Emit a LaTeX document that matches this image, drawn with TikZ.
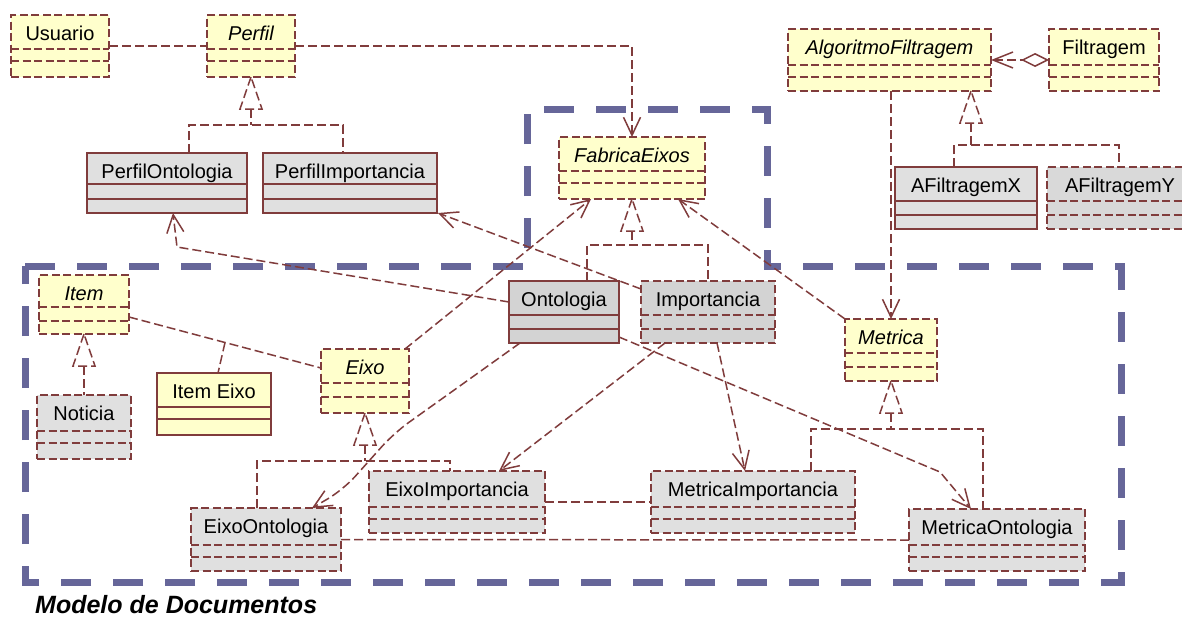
\documentclass[tikz,border=0pt]{standalone}
\usepackage{fontspec}
\setmainfont{Liberation Sans}
\usetikzlibrary{arrows.meta,calc}

\definecolor{umlline}{RGB}{128,60,60}
\definecolor{umlyellow}{RGB}{255,255,204}
\definecolor{umlgray}{RGB}{224,224,224}
\definecolor{umlgraymd}{RGB}{217,217,217}
\definecolor{umlgraydk}{RGB}{211,211,211}
\definecolor{pkgblue}{RGB}{102,102,153}

\newcommand{\umlfont}{\fontsize{20}{24}\selectfont}

% class box: name, style, x1, y1, x2, y2, divider 1, divider 2, title
\newcommand{\umlclass}[9]{%
  \node[#2, inner sep=0pt, outer sep=0pt, minimum width={#5-#3},
        minimum height={#6-#4}, anchor=north west] (#1) at (#3,#4) {};
  \draw[#2, fill=none] (#3,#7) -- (#5,#7) (#3,#8) -- (#5,#8);
  \node[anchor=base, inner sep=0pt, font=\umlfont] at ({(#3+#5)/2},{#4+25.5}) {#9};
}

\tikzset{
  sbox/.style={draw=umlline, line width=1.5pt},
  dbox/.style={sbox, dash pattern=on 8pt off 3.5pt},
  conn/.style={draw=umlline, line width=1.5pt, dash pattern=on 9pt off 4pt},
  dep/.style={conn, -{Straight Barb[length=18pt,width=17pt]}},
  pkg/.style={draw=pkgblue, line width=7pt, dash pattern=on 30pt off 22pt},
  gentri/.style={conn, fill=white},
}

% open generalization triangle hanging below an apex
\newcommand{\gentriangle}[1]{%
  \draw[gentri] (#1) -- ++(-11,32) -- ++(22,0) -- cycle;}

\begin{document}
\begin{tikzpicture}[x=1pt, y=-1pt]
\useasboundingbox (0,0) rectangle (1182,616);
\fill[white] (0,0) rectangle (1182,616);
\clip (0,0) rectangle (1182,616);

% package outline
\draw[pkg] (25,266) -- (527,266) -- (527,109) -- (767,109) -- (767,266)
  -- (1121,266) -- (1121,582) -- (25,582) -- cycle;

% classes
\umlclass{usu}{dbox,fill=umlyellow}{11}{15}{109}{77}{49}{61}{Usuario}
\umlclass{perf}{dbox,fill=umlyellow}{207}{15}{295}{77}{49}{61}{\itshape Perfil}
\umlclass{pont}{sbox,fill=umlgray}{87}{153}{247}{213}{184}{199}{PerfilOntologia}
\umlclass{pimp}{sbox,fill=umlgray}{263}{153}{437}{213}{184}{199}{PerfilImportancia}
\umlclass{fab}{dbox,fill=umlyellow}{559}{137}{705}{199}{171}{183}{\itshape FabricaEixos}
\umlclass{algo}{dbox,fill=umlyellow}{788}{29}{991}{91}{65}{77}{\itshape AlgoritmoFiltragem}
\umlclass{filt}{dbox,fill=umlyellow}{1049}{29}{1159}{91}{65}{77}{Filtragem}
\umlclass{afx}{sbox,fill=umlgray}{895}{167}{1037}{229}{201}{215}{AFiltragemX}
\umlclass{afy}{dbox,fill=umlgraymd}{1047}{167}{1193}{229}{201}{215}{AFiltragemY}
\umlclass{item}{dbox,fill=umlyellow}{39}{275}{129}{334}{307}{321}{\itshape Item}
\umlclass{noti}{dbox,fill=umlgray}{37}{395}{131}{459}{431}{443}{Noticia}
\umlclass{ie}{sbox,fill=umlyellow}{157}{373}{271}{435}{407}{419}{Item Eixo}
\umlclass{eixo}{dbox,fill=umlyellow}{321}{349}{409}{413}{383}{397}{\itshape Eixo}
\umlclass{onto}{sbox,fill=umlgraydk}{509}{281}{619}{343}{315}{329}{Ontologia}
\umlclass{impo}{dbox,fill=umlgraydk}{641}{281}{775}{343}{315}{329}{Importancia}
\umlclass{metr}{dbox,fill=umlyellow}{845}{319}{937}{381}{353}{367}{\itshape Metrica}
\umlclass{eimp}{dbox,fill=umlgray}{369}{471}{545}{533}{507}{519}{EixoImportancia}
\umlclass{mimp}{dbox,fill=umlgray}{651}{471}{855}{533}{507}{519}{MetricaImportancia}
\umlclass{eont}{dbox,fill=umlgray}{191}{508}{341}{571}{545}{557}{EixoOntologia}
\umlclass{mont}{dbox,fill=umlgray}{909}{509}{1085}{571}{545}{557}{MetricaOntologia}

% associations
\draw[conn] (usu.east) -- (perf.west);
\draw[conn] (eimp.east) -- (mimp.west);
\draw[conn] (eont.east) -- (mont.west);
\coordinate (ia) at ([yshift=17]item.south east);
\coordinate (ib) at ([yshift=-19]eixo.north west);
\draw[conn] (ia) -- (ib);
\draw[conn] ($(ia)!0.5!(ib)$) -- ([xshift=61]ie.north west);
\draw[conn, {Straight Barb[length=20pt,width=16pt]}-{Diamond[open,length=28pt,width=14pt]}]
  (algo.east) -- (filt.west);

% generalizations
\gentriangle{perf.south}
\draw[conn] ($(perf.south)+(0,32)$) -- ++(0,16);
\draw[conn] ([xshift=102]pont.north west) |- ($(perf.south)+(0,48)$)
  -| ([xshift=80]pimp.north west);

\gentriangle{fab.south}
\draw[conn] ($(fab.south)+(0,32)$) -- ++(0,14);
\draw[conn] ([xshift=78]onto.north west) |- ($(fab.south)+(0,46)$) -| (impo.north);

\coordinate (algogen) at ([xshift=183]algo.south west);
\gentriangle{algogen}
\draw[conn] ($(algogen)+(0,32)$) -- ++(0,22);
\draw[conn] ([xshift=59]afx.north west) |- ($(algogen)+(0,54)$)
  -| ([xshift=72]afy.north west);

\gentriangle{item.south}
\draw[conn] ($(item.south)+(0,32)$) -- (noti.north);

\gentriangle{eixo.south}
\draw[conn] ($(eixo.south)+(0,32)$) -- ++(0,16);
\draw[conn] ([xshift=66]eont.north west) |- ($(eixo.south)+(0,48)$)
  -| ([xshift=81]eimp.north west);

\gentriangle{metr.south}
\draw[conn] ($(metr.south)+(0,32)$) -- ++(0,16);
\draw[conn] ([xshift=160]mimp.north west) |- ($(metr.south)+(0,48)$)
  -| ([xshift=74]mont.north west);

% dependencies
\draw[dep] (perf.east) -| (fab.north);
\draw[dep] (algo.south -| metr.north) -- (metr.north);
\draw[dep] ([xshift=-4]eixo.north east) -- ([xshift=32]fab.south west);
\draw[dep] (metr.north west) -- ([xshift=119]fab.south west);
\draw[dep] ([yshift=10]onto.west) -- ([xshift=90,yshift=-34]pont.south west)
  -- ([xshift=86]pont.south west);
\draw[dep] ([yshift=-8]impo.north west) -- ([xshift=1]pimp.south east);
\draw[dep, rounded corners=18pt] ([xshift=11]onto.south west)
  -- ([xshift=203,yshift=75]eont.north west)
  -- ([xshift=152,yshift=18]eont.north west)
  -- ([xshift=121]eont.north west);
\draw[dep] ([xshift=24]impo.south west) -- ([xshift=130]eimp.north west);
\draw[dep] ([xshift=76]impo.south west) -- ([xshift=94]mimp.north west);
\draw[dep] ([yshift=6]onto.south east) -- ([xshift=31,yshift=37]mont.north west)
  -- ([xshift=62]mont.north west);

% package caption
\node[anchor=base west, inner sep=0pt, font=\fontsize{25}{30}\selectfont\bfseries\itshape]
  (caption) at (35,613) {Modelo de Documentos};
\end{tikzpicture}
\end{document}
